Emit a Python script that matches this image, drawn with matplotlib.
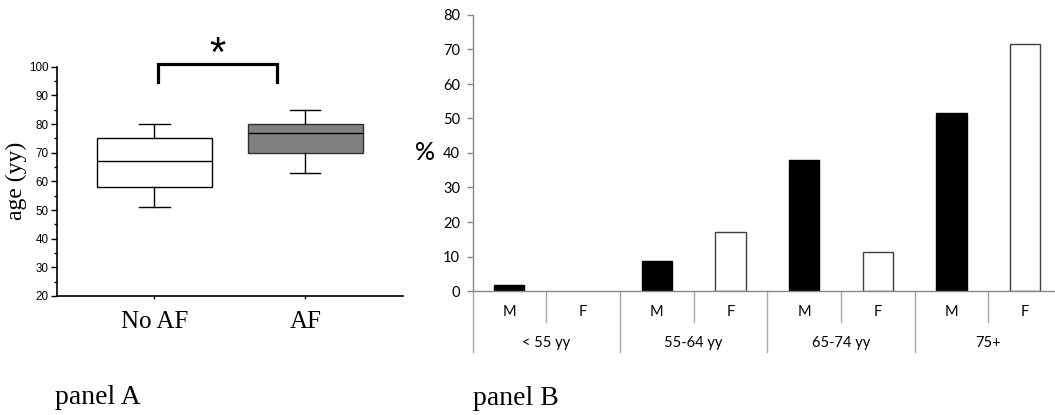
import matplotlib
matplotlib.use('Agg')
from matplotlib import pyplot as plt
from matplotlib.ticker import MultipleLocator

# panel A: box plot statistics (age, yy)
groups = ['No AF', 'AF']
whisker_lo = [51, 63]
q1 = [58, 70]
median = [67, 77]
q3 = [75, 80]
whisker_hi = [80, 85]
box_colors = ['white', '#808080']

# panel B: percentage by age class and sex
sexes = ['M', 'F', 'M', 'F', 'M', 'F', 'M', 'F']
age_classes = ['< 55 yy', '55-64 yy', '65-74 yy', '75+']
percent = [1.7, 0, 8.7, 17.2, 38.1, 11.4, 51.7, 71.5]

W, H = 1055, 415
fig = plt.figure(figsize=(W / 100, H / 100), dpi=100)

serif = 'Liberation Serif'
sans_a = 'Liberation Sans'
sans_b = 'Lato'

# ---------- panel A ----------
axA = fig.add_axes([56.7 / W, (H - 296) / H, (403 - 56.7) / W, (296 - 66.7) / H])
stats = []
for i, g in enumerate(groups):
    stats.append({'label': g, 'whislo': whisker_lo[i], 'q1': q1[i], 'med': median[i],
                  'q3': q3[i], 'whishi': whisker_hi[i], 'fliers': []})
bp = axA.bxp(stats, positions=[1, 2], widths=0.76, patch_artist=True, showfliers=False,
             boxprops=dict(linewidth=1.0, edgecolor='black'),
             medianprops=dict(color='black', linewidth=1.0),
             whiskerprops=dict(color='black', linewidth=1.0),
             capprops=dict(color='black', linewidth=1.0), capwidths=0.2)
for patch, c in zip(bp['boxes'], box_colors):
    patch.set_facecolor(c)
bp['boxes'][1].set_edgecolor('#303030')

axA.set_xlim(0.352, 2.648)
axA.set_ylim(20, 100)
axA.yaxis.set_major_locator(MultipleLocator(10))
axA.yaxis.set_minor_locator(MultipleLocator(5))
axA.tick_params(axis='y', which='major', length=4, width=1, labelsize=8.4, pad=2)
axA.tick_params(axis='y', which='minor', length=2, width=1)
axA.tick_params(axis='x', length=2.5, width=1, pad=8)
for lab in axA.get_yticklabels():
    lab.set_fontfamily(sans_a)
axA.set_xticks([1, 2])
axA.set_xticklabels(groups, fontfamily=serif, fontsize=18)
for s in ['top', 'right']:
    axA.spines[s].set_visible(False)
for s in ['left', 'bottom']:
    axA.spines[s].set_linewidth(1.2)
axA.set_ylabel('age (yy)', fontfamily=serif, fontsize=17, labelpad=1)

# significance bracket
axA.plot([1.023, 1.023, 1.81, 1.81], [94.6, 100.8, 100.8, 94.6], color='black',
         linewidth=2.3, clip_on=False, solid_joinstyle='miter')
axA.text(1.415, 104.2, '*', fontfamily=sans_a, fontsize=30, ha='center', va='center')

# ---------- panel B ----------
axB = fig.add_axes([472.5 / W, (H - 291) / H, (1062 - 472.5) / W, (291 - 15) / H])
x = list(range(len(sexes)))
colors = ['black' if s == 'M' else 'white' for s in sexes]
edges = ['black' if s == 'M' else '#404040' for s in sexes]
widths = [1.0 if p > 0 else 0 for p in percent]
axB.bar(x, percent, width=0.41, color=colors, edgecolor=edges, linewidth=widths)
axB.set_xlim(-0.5, len(sexes) - 0.5)
axB.set_ylim(0, 80)
axB.yaxis.set_major_locator(MultipleLocator(10))
axB.tick_params(axis='y', length=4, width=1, color='#888888', labelsize=10.5, pad=5)
for lab in axB.get_yticklabels():
    lab.set_fontfamily(sans_b)
axB.set_xticks([])
for s in ['top', 'right']:
    axB.spines[s].set_visible(False)
for s in ['left', 'bottom']:
    axB.spines[s].set_color('#888888')
    axB.spines[s].set_linewidth(1.0)
axB.set_ylabel('%', fontfamily=sans_b, fontsize=18, fontweight='medium', rotation=0,
               labelpad=13, va='center')

# category separators and labels below axis
trB = axB.get_xaxis_transform()
short_len = 30.7 / 276
long_len = 61.0 / 276
for b in range(len(sexes) + 1):
    edge = b - 0.5
    depth = long_len if b % 2 == 0 else short_len
    axB.plot([edge, edge], [0, -depth], transform=trB, color='#a8a8a8',
             linewidth=1.0, clip_on=False)
for i, s in enumerate(sexes):
    axB.text(i, -20.7 / 276, s, transform=trB, ha='center', va='center',
             fontfamily=sans_b, fontsize=10.5)
for j, a in enumerate(age_classes):
    axB.text(2 * j + 0.5, -52 / 276, a, transform=trB, ha='center', va='center',
             fontfamily=sans_b, fontsize=10.5)

# panel captions
fig.text(55 / W, (H - 404) / H, 'panel A', fontfamily=serif, fontsize=20, va='baseline')
fig.text(473 / W, (H - 405) / H, 'panel B', fontfamily=serif, fontsize=20, va='baseline')

fig.savefig('out.png', dpi=100)
